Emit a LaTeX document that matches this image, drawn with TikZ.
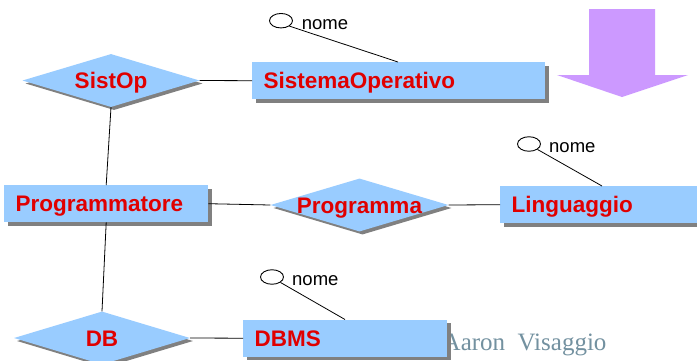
\documentclass[tikz,border=0pt]{standalone}
\usepackage{fontspec}
\setmainfont{Liberation Sans}
\newfontfamily\footerfont{Liberation Serif}
\usetikzlibrary{shapes.geometric,shadows,calc}

\definecolor{entblue}{RGB}{153,204,255}
\definecolor{entred}{RGB}{224,0,0}
\definecolor{shadegray}{RGB}{128,128,128}
\definecolor{arrowlilac}{RGB}{204,153,255}
\definecolor{footgray}{RGB}{115,145,160}

\tikzset{
  boldlbl/.style={font=\fontsize{22.5}{27}\selectfont\bfseries, text=entred},
  entity/.style={rectangle, fill=entblue, anchor=north west,
    inner xsep=11.5pt, inner ysep=0pt, minimum height=37pt,
    text height=16pt, text depth=0pt, align=left, boldlbl,
    drop shadow={shadow xshift=3.5pt, shadow yshift=-3.5pt, fill=shadegray, opacity=1}},
  relation/.style={diamond, fill=entblue, inner sep=0pt,
    minimum width=177pt, minimum height=53pt,
    drop shadow={shadow xshift=3pt, shadow yshift=-3pt, fill=shadegray, opacity=1}},
  rellbl/.style={boldlbl, inner sep=0pt, text height=16pt, text depth=0pt},
  attrib/.style={ellipse, draw, fill=white, line width=0.9pt, inner sep=0pt,
    minimum width=23pt, minimum height=14.5pt},
  attrname/.style={anchor=base west, inner sep=0pt, font=\fontsize{18.5}{22}\selectfont},
  link/.style={draw, line width=0.8pt},
}

\begin{document}
\begin{tikzpicture}[x=1pt, y=-1pt]
  \useasboundingbox (0,0) rectangle (697,360);
  \clip (0,0) rectangle (697,360);
  \fill[white] (0,0) rectangle (697,360);

  % footer text, partly covered by the DBMS box
  \node[anchor=base west, inner sep=0pt, text=footgray,
        font=\footerfont\fontsize{25}{30}\selectfont] (footer) at (442.5,350) {Aaron\ \ Visaggio};

  % downward arrow
  \fill[arrowlilac] (589,9) -- (655,9) -- (655,75) -- (688,75) -- (622,97)
    -- (557,75) -- (589,75) -- cycle;

  % entities
  \node[entity, text width=270pt] (so)   at (252,62)    {SistemaOperativo};
  \node[entity, text width=181pt] (prog) at (4,185)     {Programmatore};
  \node[entity, text width=190pt] (ling) at (500,186)   {Linguaggio};
  \node[entity, text width=181pt] (dbms) at (243,319.5) {DBMS};

  % relationships
  \node[relation, label={[rellbl]center:SistOp}]   (sistop) at (111,80.5) {};
  \node[relation, minimum width=178pt, label={[rellbl]center:Programma}] (pgm) at (359.5,205) {};
  \node[relation, minimum width=176pt, label={[rellbl]center:DB}] (db) at (102,338) {};

  % connections
  \path[link] (sistop.east) -- (so.west);
  \path[link] (sistop.south) -- (prog.north);
  \path[link] (prog.south) -- (db.north);
  \path[link] (db.east) -- (dbms.west);
  \path[link] (prog.east) -- (pgm.west);
  \path[link] (pgm.east) -- (ling.west);

  % attributes
  \node[attrib] (a1) at (281,20.7) {};
  \node[attrname] (n1) at (301.7,29.3) {nome};
  \path[link] (a1.south east) -- ($(so.north west)+(146,0)$);

  \node[attrib] (a2) at (529,144) {};
  \node[attrname] (n2) at (549,152.7) {nome};
  \path[link] (a2.south east) -- ($(ling.north west)+(102,0)$);

  \node[attrib] (a3) at (272,277) {};
  \node[attrname] (n3) at (292,285) {nome};
  \path[link] (a3.south east) -- ($(dbms.north west)+(102,0)$);
\end{tikzpicture}
\end{document}
